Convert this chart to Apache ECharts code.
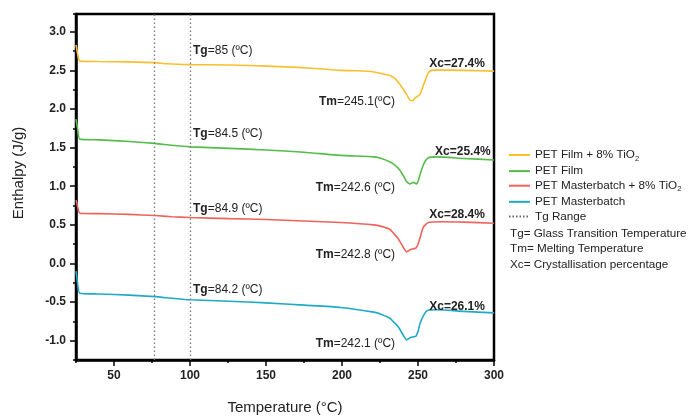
<!DOCTYPE html>
<html><head><meta charset="utf-8">
<script src="https://cdn.jsdelivr.net/npm/echarts@6/dist/echarts.min.js"></script>
<style>html,body{margin:0;padding:0;background:#fff}#c{width:690px;height:420px}</style>
</head><body><div id="c"></div>
<script>
// ---- data ----
const seriesNames = ['PET Film + 8% TiO2', 'PET Film', 'PET Masterbatch + 8% TiO2', 'PET Masterbatch', 'Tg Range'];
const xMajorTicks = [50, 100, 150, 200, 250, 300];
const yMajorTicks = [-1.0, -0.5, 0.0, 0.5, 1.0, 1.5, 2.0, 2.5, 3.0];
const tgRange = [76.5, 100];

const filmTiO2 = [[25,2.83],[26,2.72],[27.5,2.62],[40,2.615],[60,2.61],[77,2.60],[85,2.585],[100,2.575],[126,2.57],[150,2.555],[175,2.535],[199,2.50],[210,2.495],[221,2.48],[226,2.46],[232,2.43],[235,2.39],[238,2.32],[240.5,2.25],[242.5,2.19],[245,2.11],[246.5,2.11],[248,2.14],[251.3,2.19],[253,2.28],[254.6,2.36],[256.8,2.47],[259,2.50],[262,2.505],[280,2.50],[300,2.49]];
const film = [[25,1.87],[26,1.75],[27.5,1.61],[40,1.60],[60,1.58],[77,1.555],[88,1.53],[100,1.51],[126,1.49],[150,1.47],[175,1.44],[199,1.40],[221,1.38],[226,1.36],[232,1.31],[235,1.27],[238,1.21],[240.5,1.13],[242.5,1.06],[244.7,1.03],[246.9,1.05],[249,1.03],[250.3,1.08],[251.3,1.15],[253,1.25],[254.6,1.32],[256.8,1.37],[262,1.38],[280,1.36],[300,1.34]];
const mbTiO2 = [[25,0.82],[26,0.74],[27.5,0.65],[40,0.645],[60,0.635],[77,0.62],[88,0.605],[100,0.595],[126,0.58],[150,0.57],[175,0.55],[199,0.53],[221,0.50],[226,0.48],[231.6,0.44],[234,0.39],[237,0.32],[240.3,0.21],[242.5,0.15],[245,0.18],[248.7,0.20],[250,0.25],[251.3,0.33],[253.5,0.47],[256.8,0.53],[265,0.54],[280,0.535],[300,0.52]];
const mb = [[25,-0.10],[26,-0.25],[27.5,-0.385],[40,-0.395],[60,-0.41],[77,-0.43],[88,-0.45],[100,-0.47],[126,-0.49],[150,-0.51],[175,-0.54],[199,-0.57],[221,-0.63],[226,-0.66],[231.6,-0.71],[234,-0.76],[237,-0.82],[240.3,-0.93],[242.5,-0.99],[245,-0.96],[248.7,-0.94],[250,-0.88],[251.3,-0.78],[253.5,-0.68],[256.1,-0.61],[262,-0.60],[280,-0.62],[300,-0.64]];

// annotation texts and anchors [temperature, enthalpy]
const tgLabels = [['Tg','=85 (ºC)',[102,2.75]],['Tg','=84.5 (ºC)',[102,1.675]],['Tg','=84.9 (ºC)',[102,0.715]],['Tg','=84.2 (ºC)',[102,-0.34]]];
const tmLabels = [['Tm','=245.1(ºC)',[234.9,2.09]],['Tm','=242.6 (ºC)',[234.9,0.985]],['Tm','=242.8 (ºC)',[234.9,0.115]],['Tm','=242.1 (ºC)',[234.9,-1.04]]];
const xcLabels = [['Xc=27.4%',[257.4,2.585]],['Xc=25.4%',[261.2,1.45]],['Xc=28.4%',[257.4,0.63]],['Xc=26.1%',[257.4,-0.555]]];
const notes = ['Tg= Glass Transition Temperature', 'Tm= Melting Temperature', 'Xc= Crystallisation percentage'];

const colors = ['#FBBF2E', '#55BC4A', '#F0625C', '#1FA9C6'];
const FONT = '"Liberation Sans", Arial, sans-serif';

const chart = echarts.init(document.getElementById('c'), null, {renderer: 'canvas'});

function marks(i) {
  const bd = {fontWeight: 'bold', fontSize: 12, color: '#222', fontFamily: FONT};
  const rg = {fontWeight: 'normal', fontSize: 12, color: '#222', fontFamily: FONT};
  return [
    {coord: tgLabels[i][2], label: {position: 'right', distance: 0,
      formatter: () => '{bd|' + tgLabels[i][0] + '}{rg|' + tgLabels[i][1] + '}', rich: {bd, rg}}},
    {coord: tmLabels[i][2], label: {position: 'left', distance: 0,
      formatter: () => '{bd|' + tmLabels[i][0] + '}{rg|' + tmLabels[i][1] + '}', rich: {bd, rg}}},
    {coord: xcLabels[i][1], label: {position: 'right', distance: 0,
      formatter: () => '{bd|' + xcLabels[i][0] + '}', rich: {bd, rg}}}
  ];
}

function curve(i, data) {
  return {
    name: seriesNames[i], type: 'line', data: data, symbol: 'none', smooth: 0.2,
    lineStyle: {color: colors[i], width: 1.6}, itemStyle: {color: colors[i]},
    markPoint: {symbol: 'circle', symbolSize: 0, silent: true, data: marks(i)}
  };
}

const axisFont = {fontFamily: FONT, fontSize: 12, fontWeight: 'bold', color: '#222'};

chart.setOption({
  animation: false,
  grid: {left: 76, right: 196, top: 14, bottom: 57, show: true, borderColor: '#000', borderWidth: 2.5},
  xAxis: [
    {type: 'value', min: 25, max: 300,
      axisLine: {show: true, onZero: false, lineStyle: {color: '#000', width: 2.5}},
      axisTick: {show: true, customValues: xMajorTicks, length: 6, lineStyle: {color: '#000', width: 1.5}},
      axisLabel: Object.assign({customValues: xMajorTicks, margin: 10}, axisFont),
      splitLine: {show: false},
      name: 'Temperature (°C)', nameLocation: 'middle', nameGap: 40,
      nameTextStyle: {fontFamily: FONT, fontSize: 15, color: '#222'}},
    {type: 'value', min: 25, max: 300, interval: 25, position: 'bottom',
      axisLine: {show: false, onZero: false}, axisLabel: {show: false}, splitLine: {show: false},
      axisTick: {show: true, length: 3, lineStyle: {color: '#000', width: 1.5}}}
  ],
  yAxis: [
    {type: 'value', min: -1.25, max: 3.23,
      axisLine: {show: true, onZero: false, lineStyle: {color: '#000', width: 2.5}},
      axisTick: {show: true, customValues: yMajorTicks, length: 6, lineStyle: {color: '#000', width: 1.5}},
      axisLabel: Object.assign({customValues: yMajorTicks, margin: 10, formatter: v => v.toFixed(1)}, axisFont),
      splitLine: {show: false}},
    {type: 'value', min: -1.25, max: 3.23, interval: 0.25, position: 'left',
      axisLine: {show: false, onZero: false}, axisLabel: {show: false}, splitLine: {show: false},
      axisTick: {show: true, length: 3, lineStyle: {color: '#000', width: 1.5}}}
  ],
  legend: {
    orient: 'vertical', left: 508, top: 149, padding: 0, itemWidth: 21, itemHeight: 14, itemGap: 2.6,
    data: seriesNames,
    itemStyle: {opacity: 0},
    formatter: n => n.replace('TiO2', 'TiO{sub|2}'),
    textStyle: {fontFamily: FONT, fontSize: 11.7, color: '#222',
      rich: {sub: {fontFamily: FONT, fontSize: 7.5, color: '#222', padding: [7, 0, 0, 0]}}}
  },
  graphic: [
    {type: 'text', x: 19, y: 173, rotation: Math.PI / 2,
      style: {text: 'Enthalpy (J/g)', font: '15px ' + FONT, fill: '#222', align: 'center', verticalAlign: 'middle'}},
    {type: 'group', left: 510, top: 227.5, children: notes.map((t, k) => ({
      type: 'text', x: 0, y: k * 15.4,
      style: {text: t, font: '11.7px ' + FONT, fill: '#222'}}))}
  ],
  series: [
    curve(0, filmTiO2), curve(1, film), curve(2, mbTiO2), curve(3, mb),
    {name: 'Tg Range', type: 'line', data: [], symbol: 'none',
      lineStyle: {color: '#666', type: [1.5, 2], width: 1.2}, itemStyle: {color: '#666'},
      markLine: {symbol: 'none', silent: true, label: {show: false},
        lineStyle: {color: '#777', type: [1.5, 2.5], width: 1.3},
        data: tgRange.map(v => ({xAxis: v}))}}
  ]
});
</script></body></html>
